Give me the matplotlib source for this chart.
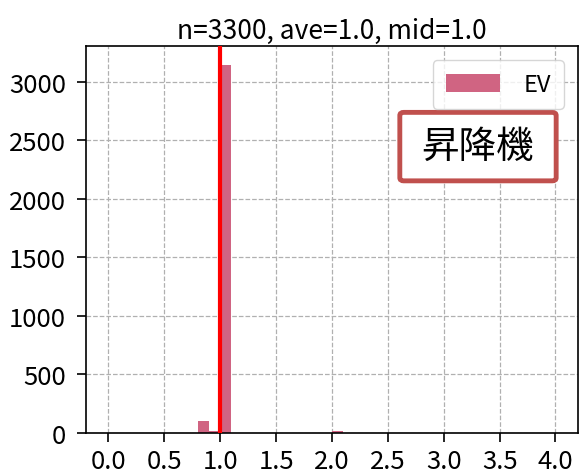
import matplotlib
matplotlib.use("Agg")
import matplotlib.pyplot as plt
from matplotlib.patches import FancyBboxPatch

plt.rcParams['font.family'] = ['Noto Sans CJK JP', 'DejaVu Sans']

# data
bin_left = [0.8, 0.9, 1.0, 2.0]
counts = [105, 18, 3145, 17]
bin_width = 0.1
mean_value = 1.0
title_text = "n=3300, ave=1.0, mid=1.0"
label_text = "昇降機"
series_name = "EV"
xticks = [0.0, 0.5, 1.0, 1.5, 2.0, 2.5, 3.0, 3.5, 4.0]
yticks = [0, 500, 1000, 1500, 2000, 2500, 3000]

fig = plt.figure(figsize=(5.86, 4.77), dpi=100)
ax = fig.add_axes([0.147, 0.090, 0.839, 0.811])

ax.bar(bin_left, counts, width=bin_width, align='edge', color='#d06482',
       label=series_name, zorder=2)
ax.axvline(mean_value, color='#ff0000', lw=3, zorder=3)

ax.set_xlim(-0.2, 4.2)
ax.set_ylim(0, max(counts) * 1.05)
ax.set_xticks(xticks)
ax.set_xticklabels([f"{v:.1f}" for v in xticks])
ax.set_yticks(yticks)
ax.tick_params(labelsize=18.5, length=6.5, width=1.2)
ax.tick_params(axis='y', pad=8)
ax.tick_params(axis='x', pad=4.5)
ax.grid(True, linestyle='--', color='#b0b0b0', lw=0.9, zorder=0)
ax.set_axisbelow(True)
for s in ax.spines.values():
    s.set_linewidth(1.2)
ax.set_title(title_text, fontsize=19, pad=6)

leg = ax.legend(loc='upper right', bbox_to_anchor=(0.972, 0.964), borderaxespad=0,
                fontsize=17, handlelength=2.3, handleheight=0.85, handletextpad=1.0,
                borderpad=0.55, fancybox=True)

box = FancyBboxPatch((0.638, 0.652), 0.318, 0.177, transform=ax.transAxes,
                     boxstyle="round,pad=0,rounding_size=0.008",
                     facecolor='white', edgecolor='#c0504d', lw=3.5, zorder=5)
ax.add_patch(box)
ax.text(0.795, 0.740, label_text, transform=ax.transAxes, fontsize=27,
        ha='center', va='center', zorder=6)

fig.savefig("out.png", dpi=100)
